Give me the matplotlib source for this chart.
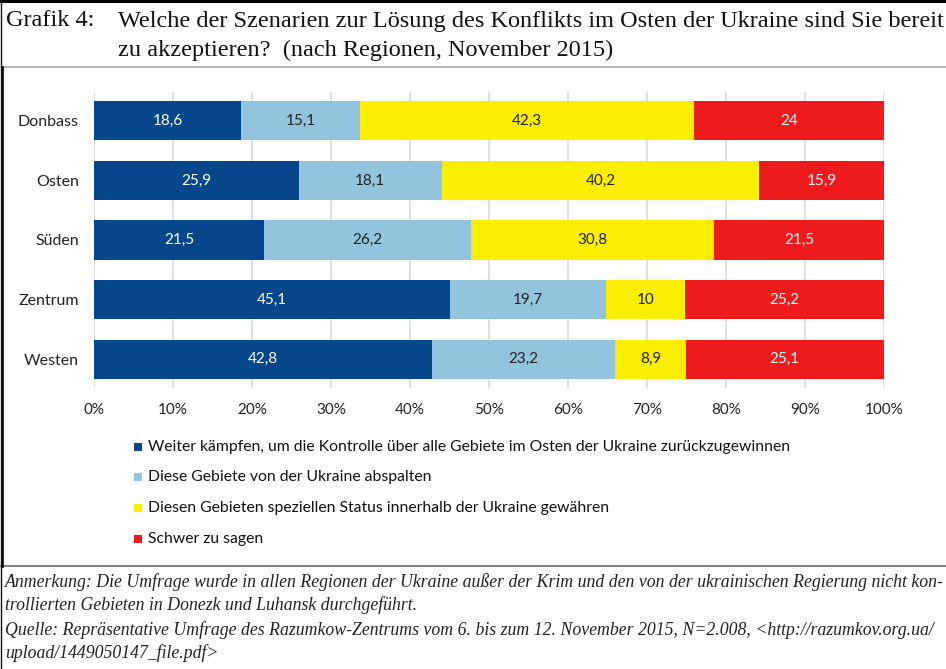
import matplotlib
matplotlib.use("Agg")
import matplotlib.pyplot as plt
from matplotlib.patches import Rectangle
from matplotlib.lines import Line2D
import numpy as np

regions = ["Donbass", "Osten", "Süden", "Zentrum", "Westen"]
kaempfen = [18.6, 25.9, 21.5, 45.1, 42.8]
abspalten = [15.1, 18.1, 26.2, 19.7, 23.2]
status = [42.3, 40.2, 30.8, 10.0, 8.9]
schwer = [24.0, 15.9, 21.5, 25.2, 25.1]
labels_kaempfen = ["18,6", "25,9", "21,5", "45,1", "42,8"]
labels_abspalten = ["15,1", "18,1", "26,2", "19,7", "23,2"]
labels_status = ["42,3", "40,2", "30,8", "10", "8,9"]
labels_schwer = ["24", "15,9", "21,5", "25,2", "25,1"]
series_names = [
    "Weiter kämpfen, um die Kontrolle über alle Gebiete im Osten der Ukraine zurückzugewinnen",
    "Diese Gebiete von der Ukraine abspalten",
    "Diesen Gebieten speziellen Status innerhalb der Ukraine gewähren",
    "Schwer zu sagen",
]
xticks = [0, 10, 20, 30, 40, 50, 60, 70, 80, 90, 100]
xtick_labels = ["0%", "10%", "20%", "30%", "40%", "50%", "60%", "70%", "80%", "90%", "100%"]

colors = ["#06468a", "#92c4de", "#fcee00", "#ee1a1c"]
text_colors = ["white", "#222222", "#222222", "white"]

W, H = 946, 669
fig = plt.figure(figsize=(W / 100, H / 100), dpi=100)
fig.patch.set_facecolor("white")

sans = ["Lato", "DejaVu Sans"]
serif = ["Liberation Serif", "DejaVu Serif"]

def fx(x):
    return x / W

def fy(y):
    return 1 - y / H

# top black strip and left edge
fig.add_artist(Rectangle((0, fy(3)), 1, 3 / H, transform=fig.transFigure, color="black", lw=0))
fig.add_artist(Line2D([fx(0.5), fx(0.5)], [fy(0), fy(669)], transform=fig.transFigure, color="#111111", lw=1))
# title
fig.text(fx(6), fy(21), "Grafik 4:", family=serif, fontsize=17.5, va="center", ha="left", color="#111111")
fig.text(fx(118), fy(21), "Welche der Szenarien zur Lösung des Konflikts im Osten der Ukraine sind Sie bereit",
         family=serif, fontsize=17.5, va="center", ha="left", color="#111111")
fig.text(fx(118), fy(50), "zu akzeptieren?  (nach Regionen, November 2015)",
         family=serif, fontsize=17.5, va="center", ha="left", color="#111111")
# separators and frame
fig.add_artist(Line2D([0, 1], [fy(67), fy(67)], transform=fig.transFigure, color="#b8b8b8", lw=1.5))
fig.add_artist(Line2D([0, 1], [fy(566), fy(566)], transform=fig.transFigure, color="#808080", lw=1.5))
fig.add_artist(Line2D([fx(1.8), fx(1.8)], [fy(67), fy(566)], transform=fig.transFigure, color="#111111", lw=2))

# axes
ax_left, ax_right = 94, 884
ax_top, ax_bot = 92, 388
ax = fig.add_axes([fx(ax_left), fy(ax_bot), (ax_right - ax_left) / W, (ax_bot - ax_top) / H])
y = np.arange(len(regions))
series = [kaempfen, abspalten, status, schwer]
labels = [labels_kaempfen, labels_abspalten, labels_status, labels_schwer]
left = np.zeros(len(regions))
for vals, col, tcol, labs in zip(series, colors, text_colors, labels):
    vals = np.array(vals)
    ax.barh(y, vals, left=left, height=0.66, color=col, edgecolor="none", zorder=3)
    for yi, l, v, lab in zip(y, left, vals, labs):
        ax.text(l + v / 2, yi, lab, ha="center", va="center", color=tcol, fontsize=11,
                family=sans, zorder=4)
    left = left + vals

ax.set_xlim(0, 100)
ax.set_ylim(len(regions) - 1 + 0.483, -0.483)
ax.set_yticks(y)
ax.set_yticklabels(regions, family=sans, fontsize=11.5, color="#222222")
ax.set_xticks(xticks)
ax.set_xticklabels(xtick_labels, family=sans, fontsize=11, color="#222222")
ax.tick_params(length=0)
ax.tick_params(axis="y", pad=11)
ax.tick_params(axis="x", pad=11)
ax.grid(axis="x", color="#d9d9d9", lw=1.2, zorder=0)
for s in ax.spines.values():
    s.set_visible(False)

# legend
leg_y = [447, 477, 508, 539]
for name, col, ly in zip(series_names, colors, leg_y):
    fig.add_artist(Rectangle((fx(134), fy(ly + 4)), 8 / W, 8 / H, transform=fig.transFigure,
                             color=col, lw=0))
    fig.text(fx(148), fy(ly), name, family=sans, fontsize=11.3, va="center", ha="left", color="#111111")

# footnotes
notes = [
    (582, "Anmerkung: Die Umfrage wurde in allen Regionen der Ukraine außer der Krim und den von der ukrainischen Regierung nicht kon-"),
    (605, "trollierten Gebieten in Donezk und Luhansk durchgeführt."),
    (630, "Quelle: Repräsentative Umfrage des Razumkow-Zentrums vom 6. bis zum 12. November 2015, N=2.008, <http://razumkov.org.ua/"),
    (653, "upload/1449050147_file.pdf>"),
]
for ny, t in notes:
    fig.text(fx(5), fy(ny), t, family=serif, style="italic", fontsize=12.8, va="center", ha="left", color="#222222")

fig.savefig("out.png", dpi=100, facecolor="white")
